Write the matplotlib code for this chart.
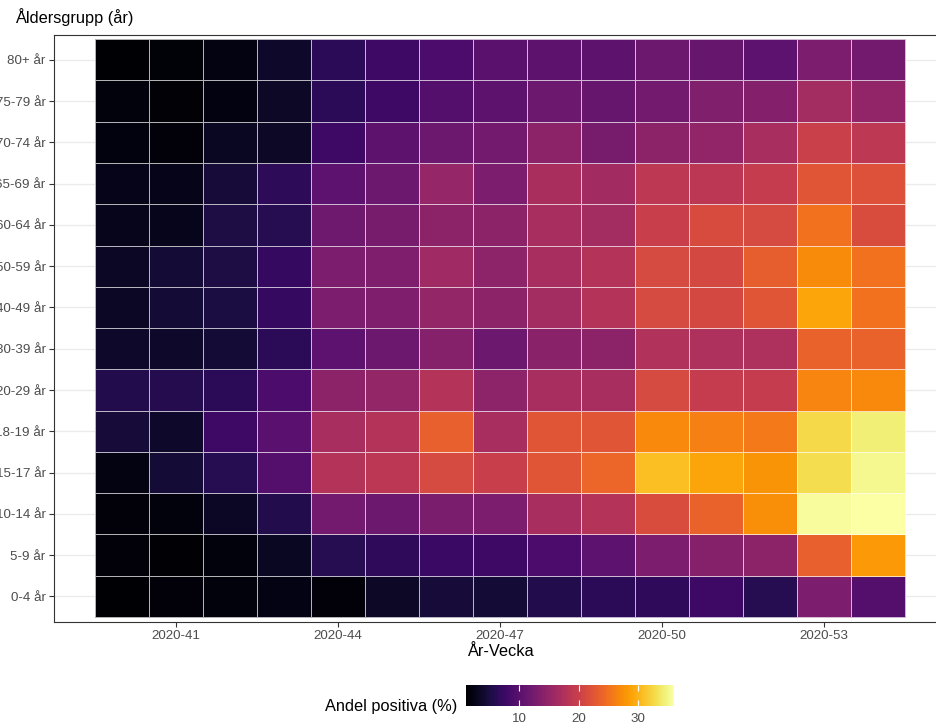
import numpy as np
import matplotlib
matplotlib.use("Agg")
import matplotlib.pyplot as plt

plt.rcParams['font.family'] = ['Liberation Sans', 'DejaVu Sans']

# age groups, bottom to top
age_groups = ['0-4 år', '5-9 år', '10-14 år', '15-17 år', '18-19 år', '20-29 år',
              '30-39 år', '40-49 år', '50-59 år', '60-64 år', '65-69 år',
              '70-74 år', '75-79 år', '80+ år']
weeks = ['2020-40', '2020-41', '2020-42', '2020-43', '2020-44', '2020-45', '2020-46',
         '2020-47', '2020-48', '2020-49', '2020-50', '2020-51', '2020-52', '2020-53',
         '2021-01']

# andel positiva (%) per age group, one list per row (same order as age_groups)
v_0_4 = [1.1, 1.7, 1.8, 2.4, 1.7, 3.5, 4.6, 4.5, 5.7, 6.4, 6.6, 7.7, 6.0, 13.0, 9.6]
v_5_9 = [1.7, 1.3, 1.9, 3.2, 6.0, 6.6, 7.5, 7.7, 9.0, 10.3, 13.0, 13.8, 14.4, 23.5, 28.1]
v_10_14 = [1.7, 1.9, 3.4, 5.6, 12.3, 11.6, 12.9, 13.0, 16.8, 17.9, 21.5, 23.6, 27.3, 35.7, 36.0]
v_15_17 = [2.3, 4.4, 6.0, 9.6, 17.9, 18.6, 21.2, 19.8, 22.4, 24.1, 30.8, 29.0, 27.8, 32.9, 35.1]
v_18_19 = [4.6, 3.7, 7.7, 10.0, 16.8, 17.9, 23.5, 16.8, 22.4, 22.4, 26.9, 26.2, 25.7, 32.7, 34.3]
v_20_29 = [5.6, 5.8, 6.3, 9.0, 14.4, 15.1, 17.9, 14.5, 16.8, 16.9, 21.2, 19.4, 19.4, 26.7, 26.9]
v_30_39 = [3.7, 3.7, 4.4, 6.3, 10.3, 11.6, 13.8, 11.7, 14.2, 14.4, 17.7, 17.2, 17.2, 23.6, 23.6]
v_40_49 = [3.4, 4.4, 5.0, 7.2, 13.0, 13.3, 15.1, 14.4, 16.5, 17.9, 21.2, 21.1, 22.4, 29.0, 25.0]
v_50_59 = [3.4, 4.4, 5.3, 7.2, 13.0, 13.3, 16.1, 14.5, 16.8, 17.9, 21.2, 21.1, 23.4, 27.1, 25.0]
v_60_64 = [2.8, 2.8, 5.3, 6.0, 11.9, 12.6, 14.4, 14.4, 16.8, 16.5, 19.8, 21.3, 21.2, 25.0, 21.5]
v_65_69 = [2.7, 2.7, 4.6, 6.5, 10.3, 11.6, 15.2, 13.0, 17.0, 16.3, 18.7, 18.6, 19.4, 22.4, 22.0]
v_70_74 = [2.0, 1.7, 3.2, 3.5, 7.7, 10.5, 11.6, 12.3, 14.4, 12.6, 14.4, 14.9, 16.8, 20.0, 18.7]
v_75_79 = [1.8, 1.5, 2.1, 3.5, 6.3, 7.7, 9.6, 10.5, 11.7, 11.2, 12.3, 13.5, 13.7, 16.5, 14.9]
v_80 = [1.1, 1.6, 2.3, 3.7, 6.3, 7.7, 9.0, 10.2, 10.5, 10.5, 11.7, 11.2, 10.3, 13.0, 12.3]

values = np.array([v_0_4, v_5_9, v_10_14, v_15_17, v_18_19, v_20_29, v_30_39,
                   v_40_49, v_50_59, v_60_64, v_65_69, v_70_74, v_75_79, v_80])

W, H = 936, 726
fig = plt.figure(figsize=(W / 100, H / 100), dpi=100)
ax = fig.add_axes([54 / W, 1 - 622 / H, 892 / W, 587 / H])

nx, ny = len(weeks), len(age_groups)
for y in range(ny):
    ax.axhline(y, color='#ebebeb', lw=1.0, zorder=0)

mesh = ax.pcolormesh(np.arange(nx + 1) - 0.5, np.arange(ny + 1) - 0.5, values,
                     cmap='inferno', vmin=values.min(), vmax=values.max(),
                     edgecolors=(1, 1, 1, 0.7), linewidth=0.7, zorder=2)

ax.set_xlim(-1.258, nx - 0.5 + 0.758)
ax.set_ylim(-0.62, ny - 0.5 + 0.1)

xt = list(range(1, nx, 3))
ax.set_xticks(xt)
ax.set_xticklabels([weeks[i] for i in xt])
ax.set_yticks(range(ny))
ax.set_yticklabels(age_groups)
ax.tick_params(axis='both', length=3.5, width=0.8, color='#333333',
               labelcolor='#4d4d4d', labelsize=9.6, pad=2.5)

for s in ax.spines.values():
    s.set_color('#333333')
    s.set_linewidth(0.8)
ax.spines['right'].set_visible(False)

fig.text(500 / W, 1 - 652 / H, 'År-Vecka', ha='center', va='center', fontsize=11.8)
fig.text(15 / W, 1 - 17 / H, 'Åldersgrupp (år)', ha='left', va='center', fontsize=11.8)

# colorbar legend
cax = fig.add_axes([466 / W, 1 - 706 / H, 208 / W, 21 / H])
cb = fig.colorbar(mesh, cax=cax, orientation='horizontal', ticks=[10, 20, 30])
cb.outline.set_visible(False)
cax.tick_params(axis='x', direction='in', length=4, width=0.8, color='white',
                labelcolor='#4d4d4d', labelsize=9.6, pad=5, top=True)
fig.text(457 / W, 1 - 707 / H, 'Andel positiva (%)', ha='right', va='center', fontsize=11.8)

fig.savefig('out.png', dpi=100)
